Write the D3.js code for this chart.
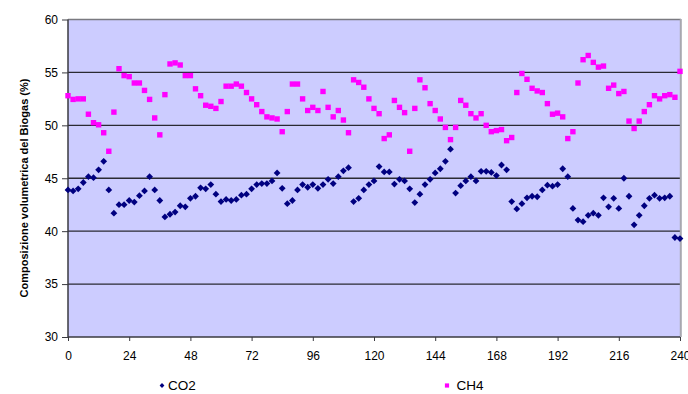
<!DOCTYPE html>
<html>
<head>
<meta charset="utf-8">
<script src="https://cdn.jsdelivr.net/npm/d3@7"></script>
<style>
  body { margin: 0; background: #fff; }
  svg { display: block; font-family: "Liberation Sans", Arial, sans-serif; }
</style>
</head>
<body>
<svg id="chart" width="688" height="394"></svg>
<script>
// Hours (every 2 h, 0..240)
const hours = d3.range(0, 241, 2);
const co2 = [
  43.9, 43.8, 44.0, 44.6, 45.15, 45.05, 45.8, 46.6, 43.9, 41.7,
  42.5, 42.5, 42.9, 42.75, 43.35, 43.8, 45.15, 43.9, 42.9, 41.35,
  41.6, 41.8, 42.4, 42.3, 43.1, 43.3, 44.1, 44.0, 44.4, 43.5,
  42.8, 43.0, 42.9, 43.0, 43.4, 43.5, 44.0, 44.4, 44.5, 44.5,
  44.75, 45.5, 44.05, 42.6, 42.9, 43.9, 44.4, 44.15, 44.4, 44.05,
  44.4, 44.9, 44.5, 45.15, 45.7, 46.0, 42.8, 43.1, 43.9, 44.4,
  44.75, 46.1, 45.6, 45.6, 44.45, 44.9, 44.75, 44.0, 42.7, 43.5,
  44.4, 44.9, 45.5, 45.9, 46.6, 47.75, 43.6, 44.3, 44.75, 45.15,
  44.75, 45.65, 45.65, 45.55, 45.25, 46.25, 45.8, 42.8, 42.1, 42.6,
  43.15, 43.3, 43.25, 43.9, 44.35, 44.25, 44.4, 45.9, 45.15, 42.15,
  41.05, 40.9, 41.5, 41.7, 41.5, 43.15, 42.3, 43.1, 42.15, 45.0,
  43.3, 40.6, 41.5, 42.4, 43.1, 43.4, 43.1, 43.15, 43.3, 39.4,
  39.3
];
const ch4 = [
  52.8, 52.45, 52.5, 52.5, 51.05, 50.25, 50.05, 49.3, 47.55, 51.25,
  55.35, 54.7, 54.6, 54.0, 54.0, 53.3, 52.45, 50.7, 49.1, 52.9,
  55.8, 55.9, 55.7, 54.7, 54.7, 53.45, 52.8, 51.9, 51.8, 51.6,
  52.25, 53.7, 53.7, 53.9, 53.7, 53.1, 52.5, 51.95, 51.3, 50.8,
  50.7, 50.6, 49.4, 51.3, 53.9, 53.9, 52.5, 51.4, 51.7, 51.4,
  53.2, 51.7, 50.8, 51.4, 50.5, 49.3, 54.3, 54.05, 53.6, 52.5,
  51.6, 51.1, 48.75, 49.1, 52.35, 51.7, 51.2, 47.55, 51.6, 54.3,
  53.55, 52.05, 51.4, 50.6, 49.8, 48.65, 49.8, 52.35, 51.9, 51.1,
  50.7, 51.1, 50.0, 49.4, 49.5, 49.6, 48.55, 48.85, 53.1, 54.9,
  54.35, 53.5, 53.25, 53.1, 52.05, 51.05, 51.15, 50.8, 48.75, 49.4,
  54.0, 56.2, 56.6, 55.95, 55.5, 55.6, 53.5, 53.8, 53.0, 53.2,
  50.4, 49.7, 50.4, 51.3, 51.95, 52.8, 52.5, 52.8, 52.9, 52.65,
  55.1
];
const xTicks = [0, 24, 48, 72, 96, 120, 144, 168, 192, 216, 240];
const yTicks = [30, 35, 40, 45, 50, 55, 60];
const seriesNames = ["CO2", "CH4"];
const seriesColors = ["#000080", "#FF00FF"];
const yLabel = "Composizione volumetrica del Biogas (%)";

const svg = d3.select("#chart");
const pL = 68, pR = 680, pT = 19.5, pB = 337;

const x = d3.scaleLinear().domain([0, 240]).range([pL, pR]);
const y = d3.scaleLinear().domain([30, 60]).range([pB, pT]);

// plot background
svg.append("rect").attr("x", pL).attr("y", pT)
  .attr("width", pR - pL).attr("height", pB - pT)
  .attr("fill", "#CCCCFF");

// gridlines
svg.append("g").selectAll("line").data(yTicks.filter(v => v > 30 && v < 60)).join("line")
  .attr("x1", pL).attr("x2", pR)
  .attr("y1", d => y(d)).attr("y2", d => y(d))
  .attr("stroke", "#2a2a33").attr("stroke-width", 1.3);

// top border
svg.append("line").attr("x1", pL).attr("x2", pR + 1).attr("y1", pT).attr("y2", pT)
  .attr("stroke", "#7a7a80").attr("stroke-width", 1.3);
// right border
svg.append("line").attr("x1", pR + 0.8).attr("x2", pR + 0.8).attr("y1", pT - 0.6).attr("y2", pB)
  .attr("stroke", "#a8a8b0").attr("stroke-width", 2);

// axes
const yAxis = d3.axisLeft(y).tickValues(yTicks).tickSize(6).tickPadding(4);
const gy = svg.append("g").attr("transform", `translate(${pL},0)`).call(yAxis);
const xAxis = d3.axisBottom(x).tickValues(xTicks).tickSize(4).tickPadding(10);
const gx = svg.append("g").attr("transform", `translate(0,${pB})`).call(xAxis);
[gx, gy].forEach(g => {
  g.select(".domain").attr("stroke", "#3a3a40").attr("stroke-width", 1.5);
  g.selectAll(".tick line").attr("stroke", "#3a3a40");
  g.selectAll("text").attr("font-size", 12).attr("fill", "#000")
    .attr("font-family", "'Liberation Sans', Arial, sans-serif");
});
gx.select(".domain").attr("d", `M${pL},0H${pR}`);
gy.select(".domain").attr("d", `M0,${pT}V${pB}`);

// y label
svg.append("text")
  .attr("transform", `translate(27.5,${188}) rotate(-90)`)
  .attr("text-anchor", "middle")
  .attr("font-size", 11).attr("font-weight", "bold")
  .text(yLabel);

// markers
const diamond = (cx, cy, r) => `M${cx},${cy - r}L${cx + r},${cy}L${cx},${cy + r}L${cx - r},${cy}Z`;
const square = (cx, cy, r) => `M${cx - r},${cy - r}H${cx + r}V${cy + r}H${cx - r}Z`;

svg.append("g").selectAll("path").data(hours.map((h, i) => [h, co2[i]])).join("path")
  .attr("d", d => diamond(x(d[0]), y(d[1]), 3.4))
  .attr("fill", seriesColors[0]);

svg.append("g").selectAll("path").data(hours.map((h, i) => [h, ch4[i]])).join("path")
  .attr("d", d => square(x(d[0]), y(d[1]), 2.7))
  .attr("fill", seriesColors[1]);

// legend
const legendY = 390;
svg.append("path").attr("d", diamond(162, legendY - 4.5, 2.4)).attr("fill", seriesColors[0]);
svg.append("text").attr("x", 168).attr("y", legendY).attr("font-size", 13.5).text(seriesNames[0]);
svg.append("path").attr("d", square(447, legendY - 4.5, 2.1)).attr("fill", seriesColors[1]);
svg.append("text").attr("x", 456.5).attr("y", legendY).attr("font-size", 13.5).text(seriesNames[1]);
</script>
</body>
</html>
